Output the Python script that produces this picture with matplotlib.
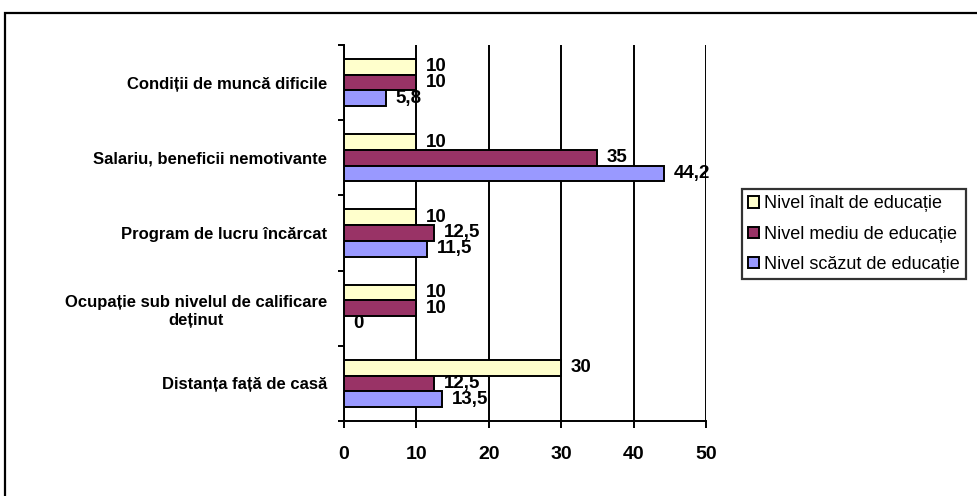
import numpy as np
import matplotlib.pyplot as plt
from matplotlib.patches import Rectangle

# Date
categorii = ["Condiții de muncă dificile",
             "Salariu, beneficii nemotivante",
             "Program de lucru încărcat",
             "Ocupație sub nivelul de calificare\ndeținut",
             "Distanța față de casă"]
serii = ["Nivel înalt de educație",
         "Nivel mediu de educație",
         "Nivel scăzut de educație"]
nivel_inalt = [10, 10, 10, 10, 30]
nivel_mediu = [10, 35, 12.5, 10, 12.5]
nivel_scazut = [5.8, 44.2, 11.5, 0, 13.5]
culori = ["#FFFFCC", "#993366", "#9999FF"]

plt.rcParams['font.family'] = ['Liberation Sans', 'DejaVu Sans']

fig = plt.figure(figsize=(9.78, 4.96), dpi=100)
ax = fig.add_axes([344 / 978, 1 - 421 / 496, 362 / 978, 376 / 496])

# chenarul exterior
fig.patches.append(Rectangle((5 / 978, -0.05), 1.1, 1 - 13 / 496 + 0.05,
                             transform=fig.transFigure, fill=False,
                             edgecolor='black', linewidth=1.6))

y = np.arange(len(categorii))
h = 0.21
for i, (valori, nume) in enumerate(zip([nivel_inalt, nivel_mediu, nivel_scazut], serii)):
    bare = ax.barh(y + (i - 1) * h, valori, height=h, color=culori[i],
                   edgecolor='black', linewidth=1.4, label=nume, zorder=3)
    etichete = [f"{v:g}".replace('.', ',') for v in valori]
    ax.bar_label(bare, labels=etichete, padding=7, fontsize=13.5,
                 fontweight='bold', zorder=4)

ax.set_xlim(0, 50)
ax.set_ylim(len(categorii) - 0.5, -0.5)
ax.set_xticks(range(0, 51, 10))
ax.set_xticklabels([str(v) for v in range(0, 51, 10)], fontsize=14, fontweight='bold')
ax.tick_params(axis='x', length=5, width=1.4, pad=13)

# etichete categorii in mijloc, tick-uri la granite
ax.set_yticks(np.arange(-0.5, len(categorii), 1))
ax.set_yticklabels([])
ax.set_yticks(y, minor=True)
ax.set_yticklabels(categorii, minor=True, fontsize=12, fontweight='bold',
                   ha='right', multialignment='center', linespacing=1.3)
ax.tick_params(axis='y', which='major', length=4, width=1.4)
ax.tick_params(axis='y', which='minor', length=0, pad=12)

ax.grid(axis='x', color='black', linewidth=1.4, zorder=0)
for s in ['top', 'right']:
    ax.spines[s].set_visible(False)
ax.spines['left'].set_linewidth(1.4)
ax.spines['bottom'].set_linewidth(1.4)

leg = ax.legend(loc='upper left', bbox_to_anchor=(742 / 978, 1 - 189 / 496),
                bbox_transform=fig.transFigure, fontsize=13, frameon=True,
                fancybox=False, edgecolor='black', handlelength=0.6,
                handleheight=0.6, handletextpad=0.25, borderpad=0.35,
                labelspacing=0.74, borderaxespad=0)
leg.get_frame().set_linewidth(1.6)

fig.savefig("out.png", dpi=100)
